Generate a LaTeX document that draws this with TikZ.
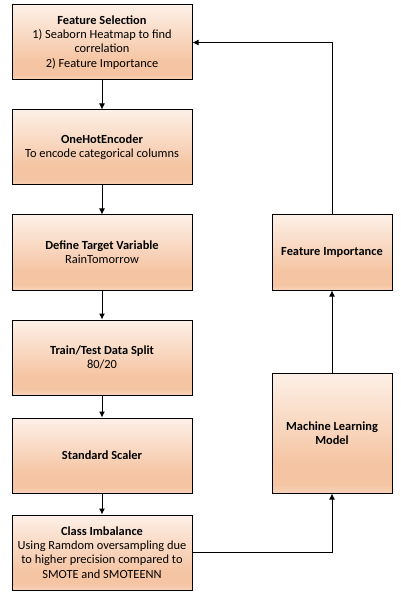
\documentclass[tikz,border=0pt]{standalone}
\usepackage{fontspec}
\setmainfont{Carlito}
\usetikzlibrary{arrows.meta}
\definecolor{ptop}{HTML}{FDF0E7}
\definecolor{pdark}{HTML}{F5C4A2}
\definecolor{pbot}{HTML}{F8D3BA}
\pgfdeclareverticalshading{peach}{100bp}{color(0bp)=(pbot); color(25bp)=(pbot); color(29bp)=(pdark); color(37bp)=(pdark); color(75bp)=(ptop); color(100bp)=(ptop)}
\tikzset{
  box/.style={draw=black, line width=0.75pt, shading=peach, shading angle=0,
    minimum width=135pt, minimum height=56.25pt, inner sep=2pt,
    align=center, font=\fontsize{9.3}{10.7}\selectfont},
  rbox/.style={box, minimum width=90pt},
  conn/.style={draw=black, line width=0.75pt, -{Latex[length=4.5pt,width=4.5pt]}}
}
\begin{document}
\begin{tikzpicture}[x=0.75pt,y=-0.75pt]
\useasboundingbox (0,0) rectangle (400,598);
\node[box] (fs) at (102,42.5) {\textbf{Feature Selection}\\1) Seaborn Heatmap to find\\correlation\\2) Feature Importance};
\node[box] (ohe) at (102,147.5) {\textbf{OneHotEncoder}\\To encode categorical columns};
\node[box] (tv) at (102,252.5) {\textbf{Define Target Variable}\\RainTomorrow};
\node[box] (split) at (102,357.5) {\textbf{Train/Test Data Split}\\80/20};
\node[box] (sc) at (102,455.5) {\textbf{Standard Scaler}};
\node[box] (ci) at (102,552.5) {\textbf{Class Imbalance}\\Using Ramdom oversampling due\\to higher precision compared to\\SMOTE and SMOTEENN};
\node[rbox] (fi) at (332,252.5) {\textbf{Feature Importance}};
\node[rbox, minimum height=90pt] (ml) at (332,433) {\textbf{Machine Learning}\\\textbf{Model}};
\draw[conn] (fs) -- (ohe);
\draw[conn] (ohe) -- (tv);
\draw[conn] (tv) -- (split);
\draw[conn] (split) -- (sc);
\draw[conn] (sc) -- (ci);
\draw[conn] (ci.east) -| (ml.south);
\draw[conn] (ml) -- (fi);
\draw[conn] (fi.north) |- (fs.east);
\end{tikzpicture}
\end{document}
